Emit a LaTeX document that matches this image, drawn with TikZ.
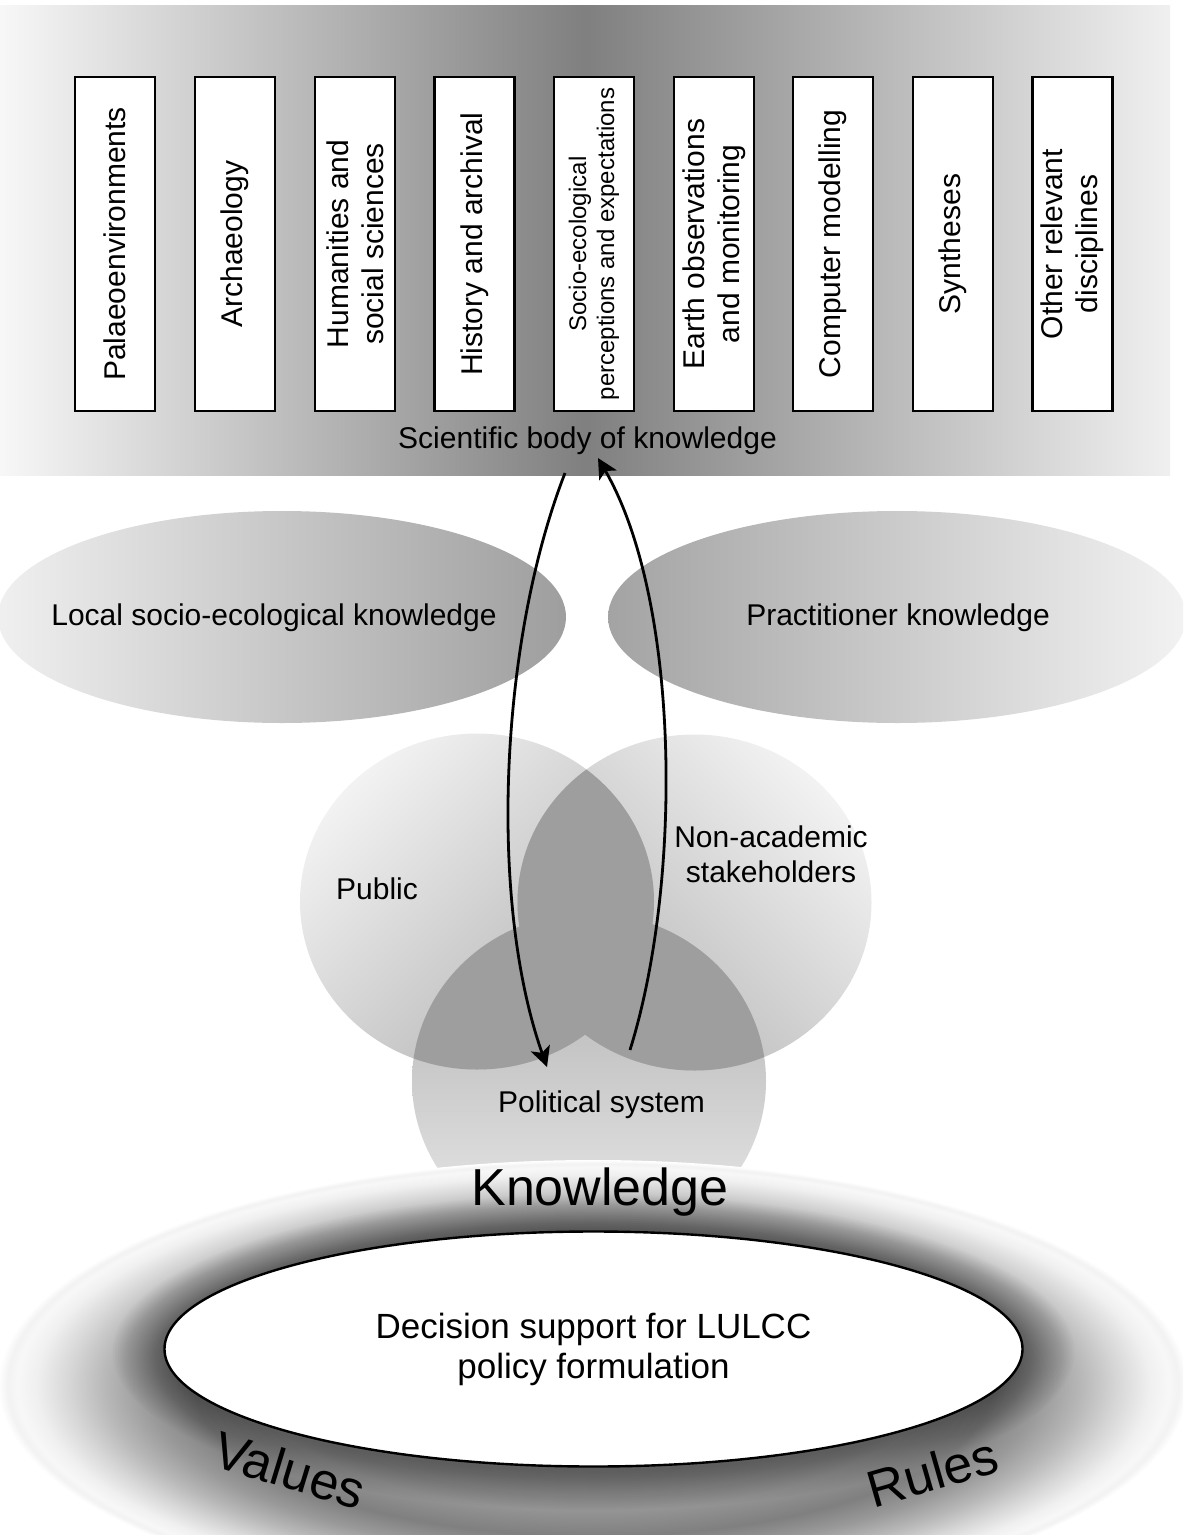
\documentclass[tikz,border=0pt]{standalone}
\usepackage{fontspec}
\setmainfont{Liberation Sans}
\usetikzlibrary{arrows.meta,shapes.geometric}
\pgfdeclareradialshading{halo}{\pgfpointorigin}{%
color(0bp)=(black!40);
color(14bp)=(black!42);
color(16.75bp)=(black!50);
color(18.75bp)=(black!40);
color(20.5bp)=(black!28);
color(22bp)=(black!16);
color(23.4bp)=(black!6);
color(24.2bp)=(black!3);
color(24.6bp)=(black!5);
color(25bp)=(white);
color(50bp)=(white)}
\begin{document}
\begin{tikzpicture}[x=0.5pt,y=-0.5pt,
  discbox/.style={draw=black, line width=1.3pt, fill=white, rotate=90,
    minimum width=167pt, minimum height=40pt, inner sep=0pt, align=center,
    font=\fontsize{15}{17.5}\selectfont},
  lbl/.style={inner sep=0pt, align=center, font=\fontsize{15}{17.5}\selectfont},
  bigl/.style={inner sep=0pt, font=\fontsize{26}{30}\selectfont},
  lens/.style={fill=black!38},
  arr/.style={line width=1.4pt, -{Stealth[length=10pt,width=10pt,inset=2.5pt]}}
]
\useasboundingbox (0,0) rectangle (1183,1535);
\clip (0,0) rectangle (1183,1535);

% ---- top band: scientific body of knowledge
\shade[left color=black!3, right color=black!6, middle color=black!50]
  (0,6) rectangle (1170,475);

\node[discbox] (b1) at (115,244) {Palaeoenvironments};
\node[discbox] (b2) at (235,244) {Archaeology};
\node[discbox] (b3) at (355,244) {Humanities and\\social sciences};
\node[discbox] (b4) at (474.5,244) {History and archival};
\node[discbox, font=\fontsize{12}{14}\selectfont] (b5) at (594,244) {Socio-ecological\\perceptions and expectations};
\node[discbox] (b6) at (714,244) {Earth observations\\and monitoring};
\node[discbox] (b7) at (833,244) {Computer modelling};
\node[discbox] (b8) at (953,244) {Syntheses};
\node[discbox] (b9) at (1072.5,244) {Other relevant\\disciplines};

\node[lbl, anchor=base] (sci) at (587.5,448) {Scientific body of knowledge};

% ---- knowledge ellipses
\shade[left color=black!6, right color=black!38] (282,617) ellipse [x radius=142pt, y radius=53pt];
\shade[left color=black!36, right color=black!5] (897,617) ellipse [x radius=144.5pt, y radius=53pt];
\node[lbl, anchor=base] (local) at (274,625.7) {Local socio-ecological knowledge};
\node[lbl, anchor=base] (pract) at (898,625.7) {Practitioner knowledge};

% ---- three circles
\shade[top color=black!32, bottom color=black!8] (589,1081) ellipse [x radius=88.5pt, y radius=84pt];
\shade[top color=black!5, bottom color=black!30, shading angle=45] (477,901.5) ellipse [x radius=88.5pt, y radius=84pt];
\shade[top color=black!5, bottom color=black!30, shading angle=-45] (694.5,902.5) ellipse [x radius=88.5pt, y radius=84pt];
\begin{scope}
  \clip (477,901.5) ellipse [x radius=88.5pt, y radius=84pt];
  \fill[lens] (694.5,902.5) ellipse [x radius=88.5pt, y radius=84pt];
  \fill[lens] (589,1081) ellipse [x radius=88.5pt, y radius=84pt];
\end{scope}
\begin{scope}
  \clip (694.5,902.5) ellipse [x radius=88.5pt, y radius=84pt];
  \fill[lens] (589,1081) ellipse [x radius=88.5pt, y radius=84pt];
\end{scope}
\node[lbl, anchor=base] (pub) at (377,899) {Public};
\node[lbl, anchor=base] (nonac) at (771,882) {Non-academic\\stakeholders};
\node[lbl, anchor=base] (pol) at (601.5,1112) {Political system};

% ---- arrows
\coordinate (a1s) at (565,473);
\coordinate (a1e) at (547,1067);
\coordinate (a2s) at (630,1050);
\coordinate (a2e) at (598,458);
\draw[arr] (a1s) .. controls (500,640) and (488,900) .. (a1e);
\draw[arr] (a2s) .. controls (683,880) and (680,600) .. (a2e);

% ---- halo and decision support
\shade[shading=halo] (593,1385) ellipse [x radius=297.5pt, y radius=112.5pt];
\foreach \d in {40,38,...,2}
  \fill[black, fill opacity=0.021] (593.5,1352) ellipse [x radius={214.5pt+0.65pt*\d}, y radius={58.75pt+0.5pt*\d}];
\draw[line width=1.2pt, fill=white] (593.5,1349) ellipse [x radius=214.5pt, y radius=58.75pt];
\node[lbl, font=\fontsize{17.5}{20}\selectfont] (dec) at (593.5,1349)
  {Decision support for LULCC\\policy formulation};

\node[bigl, anchor=base] (know) at (600,1205) {Knowledge};
\node[bigl, rotate=-17] (val) at (290,1470) {Values};
\node[bigl, rotate=16] (rul) at (932,1472) {Rules};
\end{tikzpicture}
\end{document}
